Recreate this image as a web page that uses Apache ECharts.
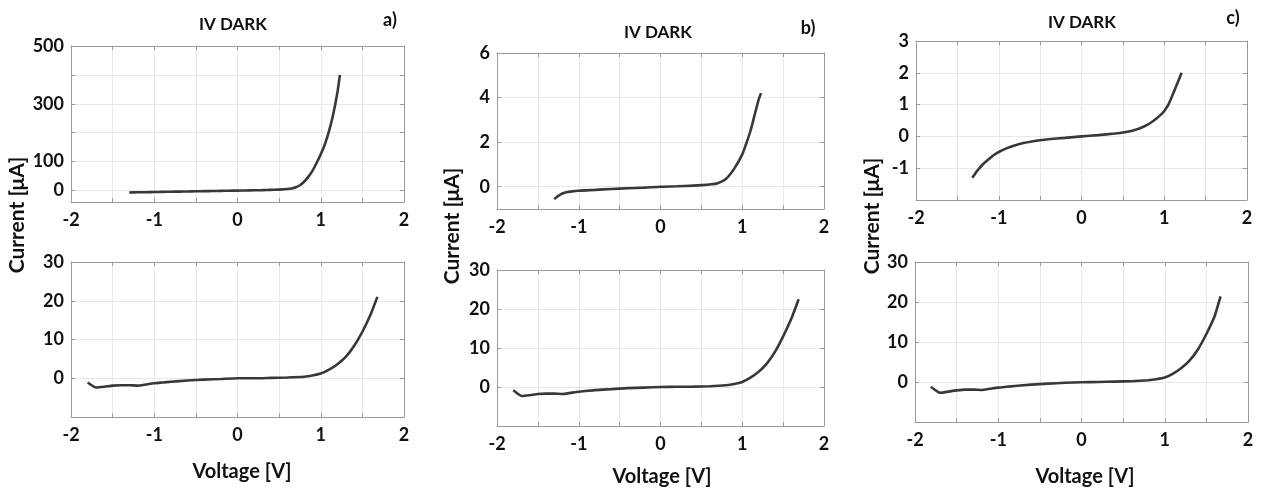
<!DOCTYPE html>
<html>
<head>
<meta charset="utf-8">
<script src="https://cdn.jsdelivr.net/npm/echarts@6/dist/echarts.min.js"></script>
<style>
html,body{margin:0;padding:0;background:#fff;}
#chart{width:1262px;height:492px;}
</style>
</head>
<body>
<div id="chart"></div>
<script>
// ---- Data ----
const titles = ['IV DARK', 'IV DARK', 'IV DARK'];
const panelTags = ['a)', 'b)', 'c)'];
const yAxisName = 'Current [μA]';
const xAxisName = 'Voltage [V]';

const xLabelValues = [-2, -1, 0, 1, 2];

// Panel a (top)
const vATop = [-1.3,-1.2,-1.1,-1.0,-0.9,-0.8,-0.7,-0.6,-0.5,-0.4,-0.3,-0.2,-0.1,0,0.1,0.2,0.3,0.4,0.5,0.6,0.65,0.7,0.75,0.8,0.85,0.9,0.95,1.0,1.05,1.1,1.15,1.2,1.23];
const iATop = [-7,-6.5,-6,-5.5,-5,-4.5,-4,-3.5,-3,-2.5,-2,-1.5,-1,-0.5,0,0.5,1,2,3,5,7,11,18,30,47,68,95,125,160,206,264,339,400];
const yLabelsATop = [0, 100, 300, 500];
const yTicksATop = [0, 100, 200, 300, 400, 500];

// Panel b (top)
const vBTop = [-1.3,-1.27,-1.25,-1.22,-1.2,-1.15,-1.1,-1.0,-0.8,-0.6,-0.4,-0.2,0,0.2,0.4,0.5,0.6,0.7,0.8,0.9,1.0,1.05,1.1,1.15,1.2,1.23];
const iBTop = [-0.55,-0.47,-0.41,-0.34,-0.3,-0.25,-0.22,-0.18,-0.14,-0.1,-0.07,-0.04,0,0.02,0.05,0.07,0.1,0.16,0.35,0.8,1.45,1.95,2.5,3.2,3.9,4.2];
const yLabelsBTop = [0, 2, 4, 6];

// Panel c (top)
const vCTop = [-1.32,-1.28,-1.25,-1.2,-1.15,-1.1,-1.05,-1.0,-0.9,-0.8,-0.7,-0.6,-0.5,-0.4,-0.2,0,0.2,0.4,0.5,0.6,0.7,0.8,0.9,0.95,1.0,1.05,1.1,1.15,1.21];
const iCTop = [-1.3,-1.15,-1.05,-0.9,-0.78,-0.67,-0.57,-0.49,-0.37,-0.28,-0.21,-0.16,-0.12,-0.09,-0.045,0,0.04,0.09,0.12,0.17,0.25,0.37,0.55,0.66,0.8,1.0,1.3,1.62,2.0];
const yLabelsCTop = [-1, 0, 1, 2, 3];

// Bottom panels
const yLabelsBottom = [0, 10, 20, 30];
const vABot = [-1.8,-1.7,-1.6,-1.5,-1.4,-1.3,-1.2,-1.1,-1.0,-0.9,-0.8,-0.6,-0.4,-0.2,0,0.2,0.4,0.6,0.8,0.9,1.0,1.1,1.2,1.3,1.4,1.5,1.6,1.68];
const iABot = [-1.1,-2.4,-2.2,-1.9,-1.8,-1.8,-1.9,-1.6,-1.3,-1.1,-0.9,-0.6,-0.35,-0.2,0,0,0.1,0.2,0.4,0.7,1.2,2.2,3.6,5.5,8.3,12,16.5,21];
const vBBot = [-1.8,-1.7,-1.6,-1.5,-1.4,-1.3,-1.2,-1.1,-1.0,-0.9,-0.8,-0.6,-0.4,-0.2,0,0.2,0.4,0.6,0.8,0.9,1.0,1.1,1.2,1.3,1.4,1.5,1.6,1.69];
const iBBot = [-0.85,-2.3,-2.1,-1.8,-1.7,-1.7,-1.8,-1.5,-1.2,-1.0,-0.8,-0.55,-0.3,-0.15,0,0.05,0.1,0.2,0.45,0.75,1.3,2.4,3.9,6.0,9.0,13,17.5,22.5];
const vCBot = [-1.81,-1.7,-1.6,-1.5,-1.4,-1.3,-1.2,-1.1,-1.0,-0.9,-0.8,-0.6,-0.4,-0.2,0,0.2,0.4,0.6,0.8,0.9,1.0,1.1,1.2,1.3,1.4,1.5,1.6,1.67];
const iCBot = [-1.2,-2.7,-2.4,-2.1,-1.9,-1.9,-2.0,-1.7,-1.4,-1.2,-1.0,-0.65,-0.4,-0.2,-0.05,0,0.1,0.2,0.45,0.7,1.1,2.1,3.5,5.4,8.2,12,16.5,21.4];

// ---- Build chart ----
const FONT = 'Lato';
const frameColor = '#9a9a9a';
const gridColor = '#e8e8e8';
const lineColor = '#383838';

const panels = [
  {rect:{left:71, top:46, width:333, height:156}, v:vATop, i:iATop, y:{min:-40, max:500, labels:yLabelsATop, ticks:yTicksATop}, smooth:0.3},
  {rect:{left:497, top:53, width:327, height:156}, v:vBTop, i:iBTop, y:{min:-1, max:6, labels:yLabelsBTop, ticks:yLabelsBTop}, smooth:0.3},
  {rect:{left:916, top:41, width:331, height:159}, v:vCTop, i:iCTop, y:{min:-2, max:3, interval:1, labels:yLabelsCTop}, smooth:0.3},
  {rect:{left:71, top:262, width:333, height:155}, v:vABot, i:iABot, y:{min:-10, max:30, interval:10, labels:yLabelsBottom}, smooth:0.15},
  {rect:{left:497, top:270, width:327, height:156}, v:vBBot, i:iBBot, y:{min:-10, max:30, interval:10, labels:yLabelsBottom}, smooth:0.15},
  {rect:{left:915, top:262, width:333, height:160}, v:vCBot, i:iCBot, y:{min:-10, max:30, interval:10, labels:yLabelsBottom}, smooth:0.15}
];

const grid = [], xAxis = [], yAxis = [], series = [];
const labelStyle = {fontFamily: FONT, fontWeight: 'bold', fontSize: 18, color: '#111'};

panels.forEach((p, k) => {
  grid.push(Object.assign({containLabel:false}, p.rect));
  xAxis.push({
    type:'value', gridIndex:k, position:'bottom', min:-2, max:2, interval:0.5,
    axisLine:{show:true, onZero:false, lineStyle:{color:frameColor, width:1}},
    axisTick:{show:true, inside:true, length:4, lineStyle:{color:frameColor}},
    axisLabel:Object.assign({customValues:xLabelValues, margin:9}, labelStyle),
    splitLine:{show:true, lineStyle:{color:gridColor, width:1}}
  });
  xAxis.push({
    type:'value', gridIndex:k, position:'top', min:-2, max:2, interval:0.5,
    axisLine:{show:true, onZero:false, lineStyle:{color:frameColor, width:1}},
    axisTick:{show:true, inside:true, length:4, lineStyle:{color:frameColor}},
    axisLabel:{show:false}, splitLine:{show:false}
  });
  const yMain = {
    type:'value', gridIndex:k, position:'left', min:p.y.min, max:p.y.max,
    axisLine:{show:true, onZero:false, lineStyle:{color:frameColor, width:1}},
    axisTick:{show:true, inside:true, length:4, lineStyle:{color:frameColor}},
    axisLabel:Object.assign({customValues:p.y.labels, margin:7}, labelStyle),
    splitLine:{show:true, lineStyle:{color:gridColor, width:1}}
  };
  const yMirror = {
    type:'value', gridIndex:k, position:'right', min:p.y.min, max:p.y.max,
    axisLine:{show:true, onZero:false, lineStyle:{color:frameColor, width:1}},
    axisTick:{show:true, inside:true, length:4, lineStyle:{color:frameColor}},
    axisLabel:{show:false}, splitLine:{show:false}
  };
  if (p.y.interval) { yMain.interval = p.y.interval; yMirror.interval = p.y.interval; }
  if (p.y.ticks) { yMain.axisTick.customValues = p.y.ticks; yMirror.axisTick.customValues = p.y.ticks; }
  yAxis.push(yMain, yMirror);
  series.push({
    type:'line', xAxisIndex:2*k, yAxisIndex:2*k,
    data:p.v.map((x, j) => [x, p.i[j]]),
    showSymbol:false, smooth:p.smooth, clip:true,
    lineStyle:{color:lineColor, width:2.6}, silent:true, animation:false
  });
});

const textStyleBase = {fontFamily: FONT, fontWeight:'bold', fill:'#111'};
const graphic = [];
const titlePos = [[233,25],[658,33],[1082,23]];
const tagPos = [[390,20],[808,28],[1233,18]];
const yNamePos = [[17,215],[452,226],[872,216]];
const xNamePos = [[242,472],[662,477],[1085,477]];
for (let k = 0; k < 3; k++) {
  graphic.push({type:'text', x:titlePos[k][0], y:titlePos[k][1],
    style:Object.assign({text:titles[k], fontSize:17, align:'center', verticalAlign:'middle'}, textStyleBase)});
  graphic.push({type:'text', x:tagPos[k][0], y:tagPos[k][1],
    style:Object.assign({text:panelTags[k], fontSize:18, align:'center', verticalAlign:'middle'}, textStyleBase)});
  graphic.push({type:'text', x:yNamePos[k][0], y:yNamePos[k][1], rotation:Math.PI/2,
    style:Object.assign({text:yAxisName, fontSize:21, align:'center', verticalAlign:'middle'}, textStyleBase)});
  graphic.push({type:'text', x:xNamePos[k][0], y:xNamePos[k][1],
    style:Object.assign({text:xAxisName, fontSize:20, align:'center', verticalAlign:'middle'}, textStyleBase)});
}

const chart = echarts.init(document.getElementById('chart'), null, {renderer:'canvas'});
chart.setOption({
  backgroundColor:'#ffffff',
  animation:false,
  grid, xAxis, yAxis, series, graphic
});
</script>
</body>
</html>
